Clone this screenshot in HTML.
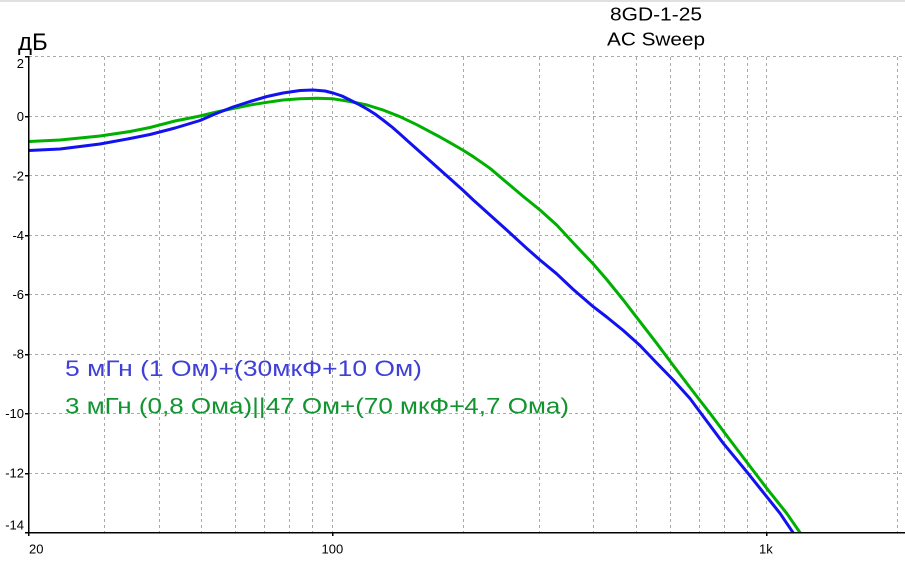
<!DOCTYPE html>
<html>
<head>
<meta charset="utf-8">
<style>
html,body{margin:0;padding:0;background:#fff;}
svg{display:block;}
text{font-family:"Liberation Sans","DejaVu Sans",sans-serif;}
</style>
</head>
<body>
<svg width="905" height="561" viewBox="0 0 905 561" xmlns="http://www.w3.org/2000/svg">
<rect x="0" y="0" width="905" height="561" fill="#fff"/>
<line x1="0" y1="1" x2="905" y2="1" stroke="#d6d6d6" stroke-width="1.5"/>

<!-- grid -->
<g stroke="#a9a9a9" stroke-width="1" stroke-dasharray="3,3" shape-rendering="crispEdges">
  <line x1="29" y1="56.5" x2="905" y2="56.5"/>
  <line x1="29" y1="116.5" x2="905" y2="116.5"/>
  <line x1="29" y1="175.5" x2="905" y2="175.5"/>
  <line x1="29" y1="235.5" x2="905" y2="235.5"/>
  <line x1="29" y1="294.5" x2="905" y2="294.5"/>
  <line x1="29" y1="354.5" x2="905" y2="354.5"/>
  <line x1="29" y1="413.5" x2="905" y2="413.5"/>
  <line x1="29" y1="473.5" x2="905" y2="473.5"/>

  <line x1="104.5" y1="57" x2="104.5" y2="532"/>
  <line x1="159.5" y1="57" x2="159.5" y2="532"/>
  <line x1="201.5" y1="57" x2="201.5" y2="532"/>
  <line x1="235.5" y1="57" x2="235.5" y2="532"/>
  <line x1="264.5" y1="57" x2="264.5" y2="532"/>
  <line x1="289.5" y1="57" x2="289.5" y2="532"/>
  <line x1="312.5" y1="57" x2="312.5" y2="532"/>
  <line x1="332.5" y1="57" x2="332.5" y2="532"/>
  <line x1="463.5" y1="57" x2="463.5" y2="532"/>
  <line x1="539.5" y1="57" x2="539.5" y2="532"/>
  <line x1="593.5" y1="57" x2="593.5" y2="532"/>
  <line x1="636.5" y1="57" x2="636.5" y2="532"/>
  <line x1="670.5" y1="57" x2="670.5" y2="532"/>
  <line x1="699.5" y1="57" x2="699.5" y2="532"/>
  <line x1="724.5" y1="57" x2="724.5" y2="532"/>
  <line x1="747.5" y1="57" x2="747.5" y2="532"/>
  <line x1="766.5" y1="57" x2="766.5" y2="532"/>
  <line x1="897.5" y1="57" x2="897.5" y2="532"/>
</g>

<!-- legend text -->
<text x="65" y="376" font-size="22" fill="#3f40d6" textLength="357" lengthAdjust="spacingAndGlyphs">5 мГн (1 Ом)+(30мкФ+10 Ом)</text>
<text x="65" y="413.5" font-size="22" fill="#129430" textLength="504" lengthAdjust="spacingAndGlyphs">3 мГн (0,8 Ома)||47 Ом+(70 мкФ+4,7 Ома)</text>

<!-- curves -->
<defs><clipPath id="pc"><rect x="29" y="50" width="876" height="482.5"/></clipPath></defs>
<g clip-path="url(#pc)" fill="none" stroke-width="3" stroke-linejoin="round" stroke-linecap="round">
<polyline stroke="#00b000" points="28,141.5 60,140 100,136 130,131.5 150,127.5 175,121 200,116 215,112.3 233,108.5 250,105 267,102.3 283,100 300,98.7 317,98.2 333,98.8 350,101.5 367,105 383,110 400,116.7 417,124.8 433,133.3 440,137 450,142.7 462.7,150 473.3,156.7 490,168.3 506.7,182.5 523.3,196.5 540,210 556.7,225 573.3,243 593.3,264 606.7,279.5 623.3,300 640,321.7 656.7,343.3 673.3,365.5 690,387.5 700,400.5 710,413.3 730,440 746.7,462 766.7,488.3 786.7,513.3 801,534"/>
<polyline stroke="#1212f0" points="28,150.5 60,149 100,144 130,138.5 150,134.5 175,128 200,120.5 215,114 233,107 250,101.5 267,96.5 283,93 300,90.5 313,90 325,91 333,93 342,96 350,100 358,104 367,109 375,114 383,120 392,127 400,134 408,141.2 417,149.3 425,156.4 433,163.5 440,169.7 448,176.9 462.7,190 473.3,200 490,215 506.7,230 526.7,248.3 540,260 556.7,273.8 573.3,289.5 593.3,306.7 606.7,317 623.3,330.5 640,345.5 656.7,363 673.3,380 690,398.5 700,412 723.3,443.3 746.7,471.7 766.7,496.7 780,513.3 794,534"/>
</g>

<!-- axes -->
<g stroke="#000" stroke-width="1.5" shape-rendering="crispEdges">
  <line x1="28.5" y1="56" x2="28.5" y2="536"/>
  <line x1="28" y1="532.5" x2="905" y2="532.5"/>
  <line x1="25" y1="56.5" x2="28" y2="56.5"/>
  <line x1="25" y1="116.5" x2="28" y2="116.5"/>
  <line x1="25" y1="175.5" x2="28" y2="175.5"/>
  <line x1="25" y1="235.5" x2="28" y2="235.5"/>
  <line x1="25" y1="294.5" x2="28" y2="294.5"/>
  <line x1="25" y1="354.5" x2="28" y2="354.5"/>
  <line x1="25" y1="413.5" x2="28" y2="413.5"/>
  <line x1="25" y1="473.5" x2="28" y2="473.5"/>
  <line x1="25" y1="532.5" x2="28" y2="532.5"/>
  <line x1="332.5" y1="532" x2="332.5" y2="536"/>
  <line x1="766.5" y1="532" x2="766.5" y2="536"/>
</g>

<!-- y tick labels -->
<g font-size="13" fill="#000" text-anchor="end">
  <text x="24" y="68">2</text>
  <text x="24" y="121">0</text>
  <text x="24" y="180.5">-2</text>
  <text x="24" y="240">-4</text>
  <text x="24" y="299">-6</text>
  <text x="24" y="358.5">-8</text>
  <text x="24" y="418">-10</text>
  <text x="24" y="477.5">-12</text>
  <text x="24" y="529.5">-14</text>
</g>

<!-- x tick labels -->
<g font-size="13" fill="#000">
  <text x="29" y="553.5">20</text>
  <text x="321.5" y="553.5">100</text>
  <text x="759" y="553.5">1k</text>
</g>

<!-- unit label -->
<text x="18" y="50" font-size="24" fill="#000">дБ</text>

<!-- title -->
<text x="610" y="20.5" font-size="18" fill="#000" textLength="92" lengthAdjust="spacingAndGlyphs">8GD-1-25</text>
<text x="607" y="45.5" font-size="18" fill="#000" textLength="98" lengthAdjust="spacingAndGlyphs">AC Sweep</text>
</svg>
</body>
</html>
